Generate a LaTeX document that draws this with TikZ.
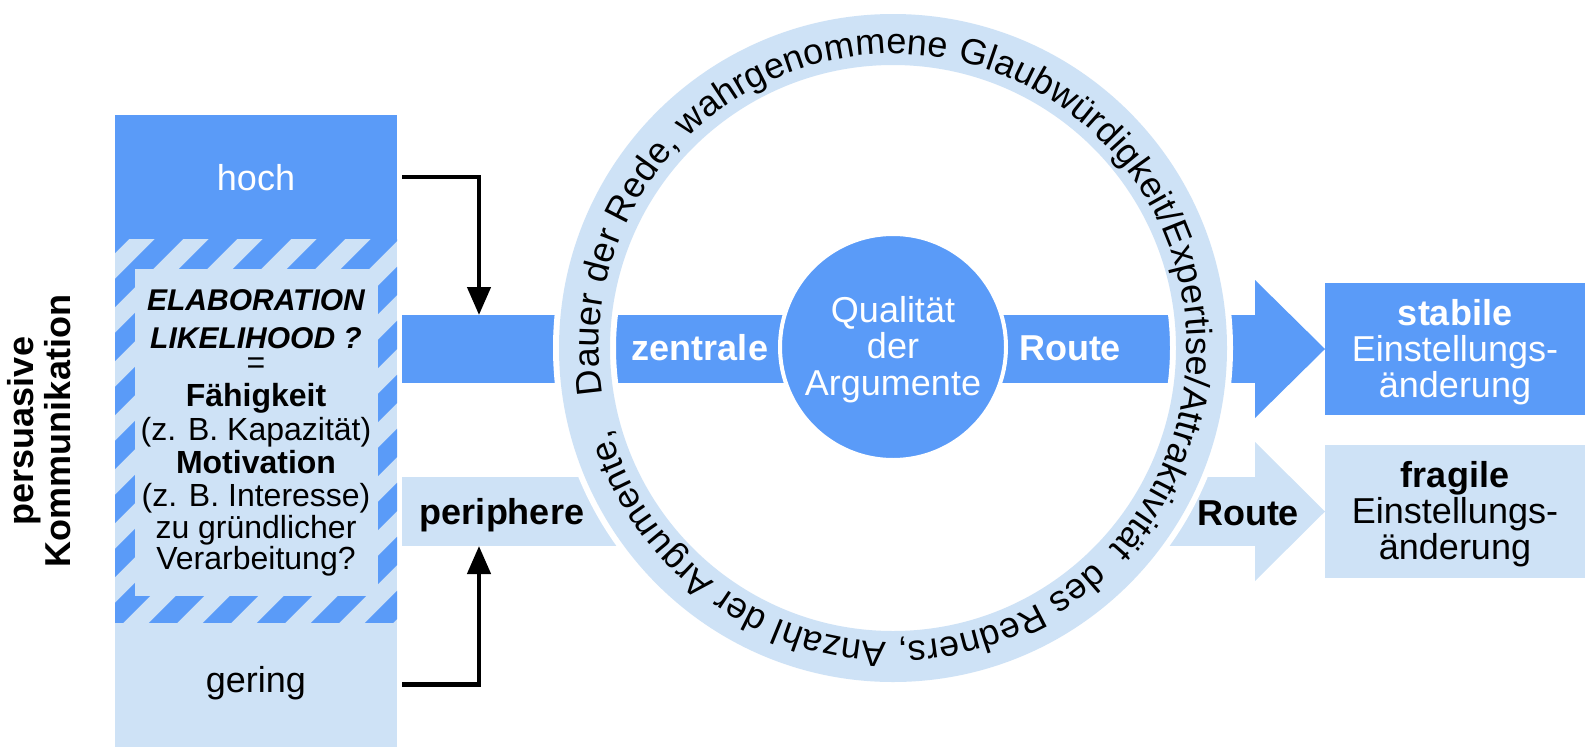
\documentclass[tikz,border=0pt]{standalone}
\usepackage{fontspec}
\setmainfont{Liberation Sans}
\usetikzlibrary{arrows.meta,decorations.text,calc}
\definecolor{dblue}{RGB}{90,155,248}
\definecolor{lblue}{RGB}{206,226,246}
\newcommand\fsz[2]{\fontsize{#1pt}{#2pt}\selectfont}
\newcommand\ringfont{\fontsize{36pt}{36pt}\selectfont}
\begin{document}
\begin{tikzpicture}[x=1pt,y=1pt,
  box/.style={inner sep=0pt, outer sep=0pt, draw=none},
  lbl/.style={inner sep=0pt, outer sep=0pt, anchor=base, font=\fsz{36}{37}},
  inner/.style={inner sep=0pt, outer sep=0pt, anchor=base, font=\fsz{32}{33}},
  conn/.style={line width=4.5pt, -{Triangle[length=28pt,width=23pt]}},
]
\useasboundingbox (0,0) rectangle (1596,-750);

% ---------- left column ----------
\node[box, fill=dblue, minimum width=282, minimum height=124] (hoch) at (256,-177) {};
\node[box, fill=lblue, minimum width=282, minimum height=383] (ela) at (256,-430.5) {};
\node[box, fill=lblue, minimum width=282, minimum height=125] (gering) at (256,-684.5) {};
\begin{scope}
  \clip (ela.south west) rectangle (ela.north east);
  \foreach \c in {-400,-346,...,440}
    \draw[dblue, line width=20pt] (\c,-700) -- ++(800,800);
\end{scope}
\fill[lblue] (135,-269) rectangle (378,-596);

\node[lbl, text=white] (thoch) at (256,-190) {hoch};
\node[lbl] (tgering) at (256,-692) {gering};

\node[inner, font=\fsz{30}{31}\bfseries\itshape] (e1) at (256,-310) {ELABORATION};
\node[inner, font=\fsz{30}{31}\bfseries\itshape] (e2) at (256,-348) {LIKELIHOOD ?};
\node[inner] (e3) at (256,-373) {=};
\node[inner, font=\fsz{32}{33}\bfseries] (e4) at (256,-406) {Fähigkeit};
\node[inner] (e5) at (256,-440) {(z. B. Kapazität)};
\node[inner, font=\fsz{32}{33}\bfseries] (e6) at (256,-473) {Motivation};
\node[inner] (e7) at (256,-506) {(z. B. Interesse)};
\node[inner] (e8) at (256,-538) {zu gründlicher};
\node[inner] (e9) at (256,-569) {Verarbeitung?};

\node[rotate=90, align=center, inner sep=0pt, font=\fsz{36}{37}\bfseries] (pk) at (39,-431) {persuasive\\Kommunikation};

% ---------- routes ----------
\node[box, fill=dblue, minimum width=854, minimum height=68] (zbar) at (829,-349) {};
\fill[dblue] (1255,-280) -- (1325,-349) -- (1255,-418) -- cycle;
\node[box, fill=lblue, minimum width=238, minimum height=69] (pbar) at (521,-511.5) {};
\node[box, fill=lblue, minimum width=106, minimum height=69] (rbar) at (1203,-511.5) {};
\fill[lblue] (1255,-442) -- (1325,-511.5) -- (1255,-581) -- cycle;

% ---------- ring ----------
\coordinate (c) at (893,-348);
\fill[white, even odd rule] (c) circle[radius=340] (c) circle[radius=277];
\fill[lblue, even odd rule] (c) circle[radius=334] (c) circle[radius=283];
\path[decorate, decoration={text along path,
   text={|\ringfont|Dauer der Rede, wahrgenommene Glaubwürdigkeit/Expertise/Attraktivität {~}des Redners, Anzahl der Argumente,},
   text align={fit to path}}]
   ($(c)+(189:294)$) arc[start angle=189, end angle=-164, radius=294];

\node[circle, fill=dblue, draw=white, line width=4pt, minimum size=226, inner sep=0pt] (qual) at (893,-347) {};
\node[lbl, text=white] (q1) at (893,-322) {Qualität};
\node[lbl, text=white] (q2) at (893,-358) {der};
\node[lbl, text=white] (q3) at (893,-395) {Argumente};

\node[lbl, text=white, font=\fsz{36}{37}\bfseries] (tz) at (700,-360) {zentrale};
\node[lbl, text=white, font=\fsz{36}{37}\bfseries] (tr1) at (1070,-360) {Route};
\node[lbl, font=\fsz{36}{37}\bfseries] (tp) at (502,-524) {periphere};
\node[lbl, font=\fsz{36}{37}\bfseries] (tr2) at (1248,-525) {Route};

% ---------- result boxes ----------
\node[box, fill=dblue, minimum width=260, minimum height=132] (stab) at (1455,-349) {};
\node[box, fill=lblue, minimum width=260, minimum height=133] (frag) at (1455,-511.5) {};
\node[lbl, text=white, font=\fsz{36}{37}\bfseries] (s1) at (1455,-325) {stabile};
\node[lbl, text=white] (s2) at (1455,-361) {Einstellungs-};
\node[lbl, text=white] (s3) at (1455,-397) {änderung};
\node[lbl, font=\fsz{36}{37}\bfseries] (f1) at (1455,-487) {fragile};
\node[lbl] (f2) at (1455,-523) {Einstellungs-};
\node[lbl] (f3) at (1455,-559) {änderung};

% ---------- connectors ----------
\coordinate (hx) at (479,0);
\draw[conn] ([xshift=5pt]hoch.east) -| (hx |- zbar.north);
\draw[conn] ([xshift=5pt]gering.east) -| (hx |- pbar.south);
\end{tikzpicture}
\end{document}
